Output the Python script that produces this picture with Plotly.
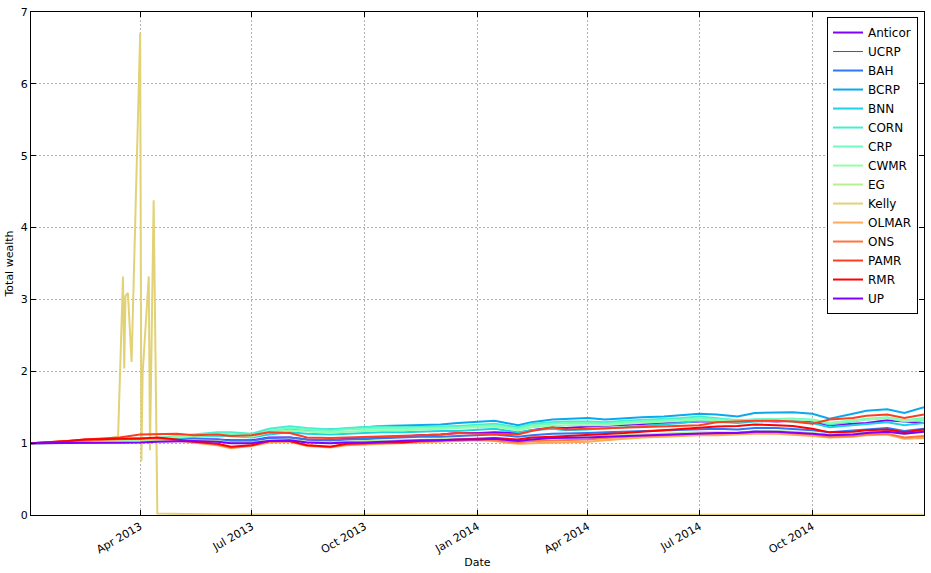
import plotly.graph_objects as go

# fechas comunes (cada ~quincena)
dates = [
    '2013-01-02', '2013-01-15', '2013-02-01', '2013-02-15', '2013-03-01', '2013-03-15',
    '2013-04-01', '2013-04-15', '2013-05-01', '2013-05-15', '2013-06-03', '2013-06-14',
    '2013-07-01', '2013-07-15', '2013-08-01', '2013-08-15', '2013-09-03', '2013-09-16',
    '2013-10-01', '2013-10-15', '2013-11-01', '2013-11-15', '2013-12-02', '2013-12-16',
    '2014-01-02', '2014-01-15', '2014-02-03', '2014-02-14', '2014-03-03', '2014-03-14',
    '2014-04-01', '2014-04-15', '2014-05-01', '2014-05-15', '2014-06-02', '2014-06-16',
    '2014-07-01', '2014-07-15', '2014-08-01', '2014-08-15', '2014-09-02', '2014-09-15',
    '2014-10-01', '2014-10-15', '2014-11-03', '2014-11-14', '2014-12-01', '2014-12-15',
    '2014-12-31',
]

anticor = [1.0, 1.0, 1.0, 1.01, 1.01, 1.01, 1.02, 1.03, 1.04, 1.05, 1.05, 1.04, 1.04, 1.08, 1.08, 1.05, 1.04,
           1.06, 1.06, 1.08, 1.09, 1.11, 1.12, 1.14, 1.14, 1.15, 1.14, 1.18, 1.22, 1.21, 1.23, 1.24, 1.25,
           1.27, 1.28, 1.29, 1.30, 1.30, 1.29, 1.31, 1.30, 1.31, 1.29, 1.25, 1.27, 1.28, 1.32, 1.30, 1.28]
ucrp = [1.0, 1.0, 1.0, 1.01, 1.01, 1.02, 1.02, 1.03, 1.04, 1.04, 1.03, 1.01, 1.01, 1.04, 1.05, 1.02, 1.01,
        1.02, 1.02, 1.03, 1.04, 1.05, 1.05, 1.06, 1.06, 1.07, 1.04, 1.06, 1.08, 1.08, 1.09, 1.10, 1.11,
        1.12, 1.13, 1.14, 1.15, 1.15, 1.15, 1.17, 1.17, 1.16, 1.14, 1.12, 1.13, 1.15, 1.17, 1.14, 1.17]
bah = [1.0, 1.0, 1.01, 1.01, 1.02, 1.02, 1.03, 1.04, 1.05, 1.06, 1.05, 1.03, 1.03, 1.07, 1.08, 1.05, 1.04,
       1.05, 1.06, 1.07, 1.08, 1.09, 1.09, 1.10, 1.11, 1.12, 1.09, 1.11, 1.13, 1.13, 1.14, 1.15, 1.16,
       1.17, 1.18, 1.19, 1.20, 1.20, 1.19, 1.21, 1.21, 1.20, 1.18, 1.15, 1.17, 1.19, 1.21, 1.17, 1.20]
bcrp = [1.0, 1.0, 1.01, 1.02, 1.03, 1.03, 1.04, 1.06, 1.08, 1.10, 1.12, 1.13, 1.12, 1.16, 1.19, 1.18, 1.19,
        1.20, 1.22, 1.24, 1.245, 1.25, 1.26, 1.28, 1.30, 1.31, 1.25, 1.29, 1.33, 1.34, 1.35, 1.33, 1.35,
        1.36, 1.37, 1.39, 1.41, 1.40, 1.37, 1.42, 1.43, 1.43, 1.41, 1.34, 1.41, 1.45, 1.47, 1.42, 1.50]
bnn = [1.0, 1.0, 1.0, 1.01, 1.02, 1.02, 1.03, 1.05, 1.07, 1.09, 1.10, 1.10, 1.08, 1.12, 1.15, 1.13, 1.12,
       1.13, 1.14, 1.15, 1.15, 1.16, 1.17, 1.17, 1.19, 1.20, 1.15, 1.18, 1.20, 1.18, 1.19, 1.20, 1.22,
       1.24, 1.26, 1.28, 1.31, 1.30, 1.28, 1.30, 1.31, 1.30, 1.28, 1.22, 1.25, 1.27, 1.29, 1.25, 1.28]
corn = [1.0, 1.0, 1.01, 1.02, 1.03, 1.04, 1.05, 1.07, 1.10, 1.12, 1.15, 1.15, 1.13, 1.20, 1.235, 1.21, 1.19,
        1.21, 1.22, 1.23, 1.22, 1.22, 1.23, 1.24, 1.26, 1.27, 1.22, 1.27, 1.29, 1.30, 1.30, 1.29, 1.31,
        1.32, 1.34, 1.35, 1.37, 1.35, 1.32, 1.33, 1.34, 1.34, 1.32, 1.26, 1.30, 1.33, 1.35, 1.30, 1.32]
crp = [1.0, 1.0, 1.01, 1.02, 1.03, 1.04, 1.05, 1.07, 1.09, 1.11, 1.13, 1.13, 1.11, 1.17, 1.21, 1.19, 1.17,
       1.19, 1.20, 1.21, 1.21, 1.21, 1.22, 1.22, 1.24, 1.25, 1.20, 1.25, 1.27, 1.28, 1.28, 1.27, 1.29,
       1.30, 1.32, 1.33, 1.35, 1.33, 1.31, 1.33, 1.34, 1.34, 1.33, 1.28, 1.32, 1.34, 1.36, 1.32, 1.35]
cwmr = [1.0, 1.0, 1.01, 1.02, 1.02, 1.03, 1.04, 1.06, 1.08, 1.10, 1.11, 1.11, 1.09, 1.15, 1.18, 1.16, 1.14,
        1.16, 1.17, 1.18, 1.18, 1.19, 1.20, 1.21, 1.22, 1.23, 1.18, 1.22, 1.24, 1.25, 1.25, 1.25, 1.27,
        1.28, 1.30, 1.31, 1.33, 1.32, 1.30, 1.32, 1.33, 1.33, 1.32, 1.28, 1.31, 1.33, 1.35, 1.31, 1.33]
eg = [1.0, 1.0, 1.0, 1.01, 1.01, 1.01, 1.02, 1.03, 1.03, 1.04, 1.03, 1.01, 1.01, 1.04, 1.05, 1.02, 1.01,
      1.02, 1.03, 1.03, 1.04, 1.05, 1.05, 1.06, 1.06, 1.07, 1.04, 1.06, 1.07, 1.08, 1.09, 1.10, 1.11,
      1.12, 1.13, 1.14, 1.15, 1.15, 1.14, 1.16, 1.17, 1.16, 1.14, 1.11, 1.13, 1.15, 1.16, 1.13, 1.16]
olmar = [1.0, 1.01, 1.02, 1.04, 1.05, 1.05, 1.07, 1.06, 1.03, 1.00, 0.97, 0.93, 0.96, 1.01, 1.02, 0.96, 0.94,
         0.97, 0.98, 0.99, 1.00, 1.01, 1.02, 1.03, 1.04, 1.03, 0.99, 1.00, 1.01, 1.01, 1.02, 1.04, 1.06,
         1.08, 1.09, 1.10, 1.11, 1.11, 1.12, 1.13, 1.13, 1.12, 1.10, 1.08, 1.09, 1.11, 1.12, 1.06, 1.07]
ons = [1.0, 1.01, 1.02, 1.04, 1.05, 1.06, 1.07, 1.07, 1.04, 1.01, 0.98, 0.94, 0.97, 1.02, 1.03, 0.97, 0.95,
       0.98, 0.99, 1.00, 1.01, 1.02, 1.03, 1.04, 1.05, 1.04, 1.01, 1.03, 1.04, 1.04, 1.05, 1.07, 1.09,
       1.10, 1.11, 1.12, 1.13, 1.13, 1.14, 1.15, 1.15, 1.14, 1.12, 1.09, 1.10, 1.12, 1.13, 1.08, 1.10]
pamr = [1.0, 1.01, 1.03, 1.05, 1.07, 1.08, 1.12, 1.12, 1.13, 1.11, 1.12, 1.10, 1.11, 1.15, 1.14, 1.08, 1.07,
        1.08, 1.09, 1.10, 1.11, 1.11, 1.12, 1.14, 1.13, 1.13, 1.12, 1.17, 1.22, 1.19, 1.20, 1.20, 1.21,
        1.22, 1.23, 1.24, 1.25, 1.29, 1.30, 1.31, 1.31, 1.30, 1.27, 1.33, 1.35, 1.38, 1.40, 1.35, 1.40]
rmr = [1.0, 1.01, 1.03, 1.05, 1.06, 1.06, 1.06, 1.08, 1.05, 1.02, 0.99, 0.95, 0.97, 1.03, 1.03, 0.97, 0.95,
       0.99, 1.00, 1.01, 1.01, 1.03, 1.04, 1.05, 1.07, 1.07, 1.05, 1.08, 1.09, 1.10, 1.11, 1.12, 1.14,
       1.16, 1.18, 1.20, 1.22, 1.23, 1.24, 1.26, 1.25, 1.24, 1.20, 1.15, 1.16, 1.18, 1.19, 1.15, 1.19]
up = [1.0, 1.0, 1.0, 1.0, 1.01, 1.01, 1.01, 1.02, 1.03, 1.03, 1.02, 1.00, 1.00, 1.03, 1.04, 1.01, 1.00,
      1.01, 1.01, 1.02, 1.03, 1.04, 1.04, 1.05, 1.05, 1.06, 1.03, 1.05, 1.07, 1.07, 1.08, 1.09, 1.10,
      1.11, 1.12, 1.13, 1.14, 1.14, 1.14, 1.16, 1.16, 1.15, 1.13, 1.11, 1.12, 1.14, 1.16, 1.13, 1.16]

# Kelly tiene su propio eje de fechas (pico en mar-abr 2013)
kelly_dates = [
    '2013-01-02', '2013-01-15', '2013-02-01', '2013-02-15', '2013-03-01', '2013-03-14',
    '2013-03-18', '2013-03-19', '2013-03-20', '2013-03-21', '2013-03-22', '2013-03-25',
    '2013-04-01', '2013-04-02', '2013-04-03', '2013-04-08', '2013-04-09',
    '2013-04-12', '2013-04-15', '2013-06-03', '2013-10-01', '2014-04-01', '2014-10-01',
    '2014-12-31',
]
kelly = [1.0, 1.01, 1.02, 1.04, 1.05, 1.09,
         3.32, 2.04, 3.04, 3.07, 3.09, 2.13,
         6.71, 0.75, 1.97, 3.32, 0.90,
         4.38, 0.02, 0.006, 0.005, 0.005, 0.004,
         0.004]

names = ['Anticor', 'UCRP', 'BAH', 'BCRP', 'BNN', 'CORN', 'CRP', 'CWMR', 'EG',
         'Kelly', 'OLMAR', 'ONS', 'PAMR', 'RMR', 'UP']
series = [anticor, ucrp, bah, bcrp, bnn, corn, crp, cwmr, eg,
          kelly, olmar, ons, pamr, rmr, up]
# rainbow, 14 colores que vuelven a empezar
colores = ['#8000ff', '#583dfd', '#3176f8', '#0aa9ee', '#1dd2e2', '#45eed2', '#6cfdbf',
           '#93fda9', '#baee91', '#e2d276', '#ffa95a', '#ff763d', '#ff3d1f', '#ff0000', '#8000ff']

fig = go.Figure()
for nombre, valores, color in zip(names, series, colores):
    x = kelly_dates if nombre == 'Kelly' else dates
    fig.add_trace(go.Scatter(
        x=x,
        y=valores,
        mode='lines',
        name=nombre,
        line=dict(color=color, width=1 if nombre == 'UCRP' else 2),
    ))

eje = dict(
    showline=True, linecolor='black', linewidth=1, mirror='ticks',
    ticks='inside', ticklen=5, tickcolor='black',
    showgrid=True, gridcolor='#b0b0b0', griddash='2px,2px', gridwidth=1,
    zeroline=False, tickfont=dict(size=11, color='black'),
    automargin=False,
)

fig.update_layout(
    width=931, height=573,
    margin=dict(l=31, r=7, t=12, b=58),
    paper_bgcolor='white', plot_bgcolor='white',
    font=dict(family='DejaVu Sans', size=11, color='black'),
    xaxis=dict(
        eje,
        range=['2013-01-02', '2014-12-31'],
        tickvals=['2013-04-01', '2013-07-01', '2013-10-01', '2014-01-01',
                  '2014-04-01', '2014-07-01', '2014-10-01'],
        tickformat='%b %Y', tickangle=-30,
        title=dict(text='Date', font=dict(size=11), standoff=0),
    ),
    yaxis=dict(
        eje,
        range=[0, 7], dtick=1,
        title=dict(text='Total wealth', font=dict(size=11), standoff=4),
    ),
    legend=dict(
        x=0.9933, y=0.99, xanchor='right', yanchor='top',
        bgcolor='white', bordercolor='black', borderwidth=1,
        font=dict(size=12), tracegroupgap=0,
    ),
    showlegend=True,
)

# quitar el margen por defecto del body para que la figura quede en (0, 0)
fig.write_html(
    "out.html",
    config={'displayModeBar': False},
    post_script="document.body.style.margin = '0px';",
)
